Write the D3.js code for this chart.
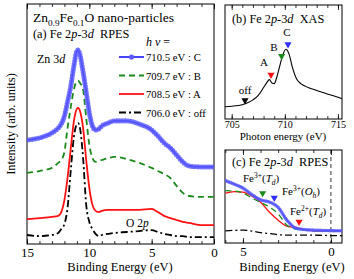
<!DOCTYPE html>
<html>
<head>
<meta charset="utf-8">
<script src="https://cdn.jsdelivr.net/npm/d3@7"></script>
<style>
  body { margin: 0; background: #fff; }
  svg text { font-family: "Liberation Serif", serif !important; fill: #000; white-space: pre; }
</style>
</head>
<body>
<svg id="chart" width="354" height="279" font-family="Liberation Serif, serif"></svg>
<script>
// panel (a): RPES spectra, binding energy (eV) vs intensity (arb. units)
const beA = [15, 14, 13, 12.5, 12.25, 12, 11.75, 11.5, 11.25, 11, 10.9, 10.75, 10.5, 10.25, 10,
  9.75, 9.5, 9.25, 9, 8.5, 8, 7, 6, 5, 4.5, 4, 3.5, 3, 2.5, 2, 1, 0];
const rpesC = [43.3, 44.2, 46.3, 48.3, 50, 53.3, 59.2, 65.4, 73.8, 80.4, 80.8, 78.8, 71.7, 63.3, 54.6,
  49.2, 47.5, 47.9, 49.2, 50.4, 51.3, 51.3, 50, 47.5, 45, 42.1, 40, 37.1, 34.2, 32.5, 32.1, 32.1];
const rpesB = [29.6, 30.4, 31.7, 33.8, 35, 38.3, 48.3, 56.7, 64.2, 67.9, 68.1, 67.1, 64.2, 52.5, 41.3,
  35.8, 34.2, 34.6, 35, 35.8, 36.3, 35.4, 33.8, 31.7, 30.4, 29.2, 27.5, 24.2, 21.3, 20, 19.6, 19.6];
const rpesA = [10.4, 10.8, 11.3, 11.7, 13.3, 18.3, 27.5, 39.2, 50.8, 56.3, 56.7, 55.4, 48.3, 35, 23.3,
  16.3, 13.8, 13.3, 13.8, 14.2, 14.2, 14.2, 14.2, 14.6, 13.3, 11.7, 10.8, 10, 9.2, 8.8, 7.9, 7.9];
const rpesOff = [3.75, 3.3, 3.75, 4.6, 6.25, 8.3, 15, 30, 44.2, 50, 50.4, 48.3, 35.8, 16.3, 9.2,
  6.25, 4.2, 3.3, 3.75, 4.2, 4.6, 5, 5.4, 5.8, 5, 4.2, 3.75, 3.3, 3.3, 2.9, 2.9, 2.9];
const legendHv = ["710.5 eV", "709.7 eV", "708.5 eV", "706.0 eV"];
const legendTag = [": C", ": B", ": A", ": off"];
const ticksA = [15, 10, 5, 0];

// panel (b): XAS, photon energy (eV) vs intensity
const hvB = [704.37, 705, 706, 706.5, 707, 707.5, 708, 708.3, 708.55, 708.8, 709, 709.2, 709.5, 709.8,
  710.1, 710.4, 710.7, 711.1, 711.5, 712, 713, 714, 715, 715.38];
const xas = [10.8, 11.2, 12.5, 14.2, 16.8, 20.7, 27.6, 31.9, 34.5, 31.5, 31, 35.3, 45.7, 56,
  61.2, 56.9, 45.7, 35.3, 31, 28.4, 25, 22, 19, 17.7];
const markHv = [710.3, 709.7, 708.7, 706.25];
const markInt = [65.5, 55.2, 38.8, 16.4];
const markLabel = ["C", "B", "A", "off"];
const ticksB = [705, 710, 715];

// panel (c): valence band close-up
const beC = [6, 5.5, 5, 4.5, 4, 3.5, 3, 2.5, 2, 1.5, 1, 0.5, 0, -0.63];
const vbC = [67, 63.3, 59, 52.1, 46.3, 44.1, 38.3, 24.5, 16, 14.4, 13.8, 13.5, 13.3, 13.1];
const vbB = [56.4, 55.9, 53.7, 48.4, 43.6, 38.8, 31.4, 19.1, 14.9, 13.8, 13.1, 12.8, 12.8, 12.8];
const vbA = [53.5, 55.3, 54.8, 50.5, 43.9, 33.3, 24.5, 18.1, 16.7, 14.4, 13.1, 12.8, 12.8, 12.8];
const vbOff = [13.1, 13.6, 13.8, 12.8, 11.2, 10.1, 9, 8.5, 8.5, 8.5, 8.5, 8.2, 8, 7.8];
const siteBE = [3.88, 3.22, 1.81];
const siteInt = [53.5, 48.6, 22.7];
const ticksC = [5, 0];

const svg = d3.select("#chart");
const BLUE = "#2f2ff5", GREEN = "#1b8a1b", RED = "#ff1010";
const styles = [
  { color: BLUE, dash: null, beads: true },
  { color: GREEN, dash: "6,4" },
  { color: RED, dash: null },
  { color: "#000", dash: "7,3,2,3" },
];

const xA = d3.scaleLinear().domain([15, 0]).range([27, 214]);
const yA = d3.scaleLinear().domain([0, 100]).range([244, 4]);
const xB = d3.scaleLinear().domain([704.37, 715.38]).range([225, 342]);
const yB = d3.scaleLinear().domain([0, 100]).range([119, 5]);
const xC = d3.scaleLinear().domain([6.02, -0.63]).range([225, 342]);
const yC = d3.scaleLinear().domain([0, 100]).range([243, 150]);

// writes text made of parts: [string, "i" | "sub" | "sup" | "isub" | ""]
function rich(g, x, y, parts, size, anchor) {
  const t = g.append("text").attr("x", x).attr("y", y).attr("font-family", "Liberation Serif")
    .attr("font-size", size).attr("text-anchor", anchor || "start");
  let shift = 0;
  parts.forEach(([s, k]) => {
    const sp = t.append("tspan").text(s);
    let want = 0;
    if (k === "sub" || k === "isub") { want = size * 0.3; sp.attr("font-size", size * 0.68); }
    if (k === "sup") { want = -size * 0.38; sp.attr("font-size", size * 0.68); }
    if (k === "i" || k === "isub") sp.attr("font-style", "italic");
    if (want !== shift) { sp.attr("dy", want - shift); shift = want; }
  });
  return t;
}

function label(x, y, s, size, anchor) {
  return svg.append("text").attr("x", x).attr("y", y).attr("font-family", "Liberation Serif")
    .attr("font-size", size).attr("text-anchor", anchor || "start").text(s);
}

function frame(x, y, major, minor, labelSize, pad) {
  const [x0, x1] = x.range(), [y0, y1] = y.range();
  const g = svg.append("g");
  g.append("g").attr("transform", `translate(0,${y0})`)
    .call(d3.axisBottom(x).tickValues(minor).tickSize(-3).tickFormat(""));
  g.append("g").attr("transform", `translate(0,${y0})`)
    .call(d3.axisBottom(x).tickValues(major).tickSize(-5).tickPadding(pad).tickFormat(d3.format("d")))
    .call(a => a.attr("font-family", "Liberation Serif").attr("font-size", null)
      .selectAll("text").attr("font-size", labelSize));
  g.append("g").attr("transform", `translate(0,${y1})`)
    .call(d3.axisTop(x).tickValues(minor).tickSize(-3).tickFormat(""));
  g.append("g").attr("transform", `translate(0,${y1})`)
    .call(d3.axisTop(x).tickValues(major).tickSize(-5).tickFormat(""));
  g.selectAll(".domain").remove();
  g.selectAll(".tick line").attr("stroke", "#000").attr("stroke-width", 0.8);
  g.append("rect").attr("x", x0).attr("y", y1).attr("width", x1 - x0).attr("height", y0 - y1)
    .attr("fill", "none").attr("stroke", "#000").attr("stroke-width", 1);
  return g;
}

function clip(id, x, y) {
  svg.append("clipPath").attr("id", id).append("rect")
    .attr("x", x.range()[0]).attr("y", y.range()[1])
    .attr("width", x.range()[1] - x.range()[0]).attr("height", y.range()[0] - y.range()[1]);
  return svg.append("g").attr("clip-path", `url(#${id})`);
}

function curve(g, xs, x, y, vals, st, w) {
  const line = d3.line().x((d, i) => x(xs[i])).y(d => y(d)).curve(d3.curveMonotoneX);
  const p = g.append("path").attr("d", line(vals)).attr("fill", "none")
    .attr("stroke", st.color).attr("stroke-width", w);
  if (st.dash) p.attr("stroke-dasharray", st.dash);
  if (st.beads) {
    g.append("path").attr("d", line(vals)).attr("fill", "none")
      .attr("stroke", "#5a5aff").attr("stroke-width", w * 2.8).attr("stroke-opacity", 0.85)
      .attr("stroke-linecap", "round").attr("stroke-dasharray", "0," + (w * 1.6));
  }
}

function tri(g, cx, cy, color) {
  g.append("path").attr("d", d3.symbol(d3.symbolTriangle, 22)())
    .attr("transform", `translate(${cx},${cy}) rotate(180)`).attr("fill", color);
}

// ---- panel (a)
frame(xA, yA, ticksA, d3.range(0, 16), 13, 4);
const gA = clip("clipA", xA, yA);
[rpesOff, rpesA, rpesB, rpesC].forEach((v, i) => curve(gA, beA, xA, yA, v, styles[3 - i], 1.8));

rich(svg, 33, 22, [["Zn", ""], ["0.9", "sub"], ["Fe", ""], ["0.1", "sub"], ["O nano-particles", ""]], 13.5);
rich(svg, 33, 38, [["(a) Fe 2", ""], ["p", "i"], ["-3", ""], ["d", "i"], ["  RPES", ""]], 12.3);
rich(svg, 146, 46, [["h", "i"], [" ", ""], ["\u03bd", "i"], [" =", ""]], 12);
rich(svg, 37, 63, [["Zn 3", ""], ["d", "i"]], 12);
rich(svg, 126, 227, [["O 2", ""], ["p", "i"]], 11.5);

const legY = [57, 75.5, 94, 112.5];
legendHv.forEach((s, i) => {
  const st = styles[i], gy = legY[i];
  svg.append("line").attr("x1", 119).attr("x2", 144).attr("y1", gy).attr("y2", gy)
    .attr("stroke", st.color).attr("stroke-width", 1.8).attr("stroke-dasharray", st.dash);
  if (st.beads) svg.append("circle").attr("cx", 131.5).attr("cy", gy).attr("r", 2.6).attr("fill", "#5a5aff");
  label(146, gy + 4, s, 10.7);
  label(188, gy + 4, legendTag[i], 10.7);
});

label(120, 271, "Binding Energy (eV)", 12.5, "middle");
svg.append("text").attr("transform", "translate(15,124) rotate(-90)").attr("font-size", 12.5)
  .attr("font-family", "Liberation Serif").attr("text-anchor", "middle").text("Intensity (arb. units)");

// ---- panel (b)
frame(xB, yB, ticksB, d3.range(705, 716), 10, 2);
const gB = clip("clipB", xB, yB);
curve(gB, hvB, xB, yB, xas, { color: "#000" }, 1.1);
const markColor = [BLUE, GREEN, RED, "#000"];
markHv.forEach((e, i) => tri(svg, xB(e), yB(markInt[i]), markColor[i]));
[[287, 36], [274, 51], [264, 66], [245, 94]].forEach(([lx, ly], i) => label(lx, ly, markLabel[i], 11, "middle"));
rich(svg, 232, 23, [["(b) Fe 2", ""], ["p", "i"], ["-3", ""], ["d", "i"], ["  XAS", ""]], 12.3);
label(283, 140, "Photon energy (eV)", 11, "middle");

// ---- panel (c)
frame(xC, yC, ticksC, d3.range(0, 7), 13, 4);
const gC = clip("clipC", xC, yC);
gC.append("line").attr("x1", xC(0)).attr("x2", xC(0)).attr("y1", yC.range()[1]).attr("y2", yC.range()[0])
  .attr("stroke", "#000").attr("stroke-width", 0.8).attr("stroke-dasharray", "4,3");
[vbOff, vbA, vbB, vbC].forEach((v, i) => curve(gC, beC, xC, yC, v, styles[3 - i], 1.3));
[GREEN, BLUE, RED].forEach((c, i) => tri(svg, xC(siteBE[i]), yC(siteInt[i]), c));
rich(svg, 232, 166, [["(c) Fe 2", ""], ["p", "i"], ["-3", ""], ["d", "i"], ["  RPES", ""]], 12.3);
rich(svg, 243, 182, [["Fe", ""], ["3+", "sup"], ["(", ""], ["T", "i"], ["d", "isub"], [")", ""]], 11);
rich(svg, 282, 195, [["Fe", ""], ["3+", "sup"], ["(", ""], ["O", "i"], ["h", "isub"], [")", ""]], 11);
rich(svg, 290, 215, [["Fe", ""], ["2+", "sup"], ["(", ""], ["T", "i"], ["d", "isub"], [")", ""]], 11);
label(292, 271, "Binding Energy (eV)", 12.5, "middle");
</script>
</body>
</html>
